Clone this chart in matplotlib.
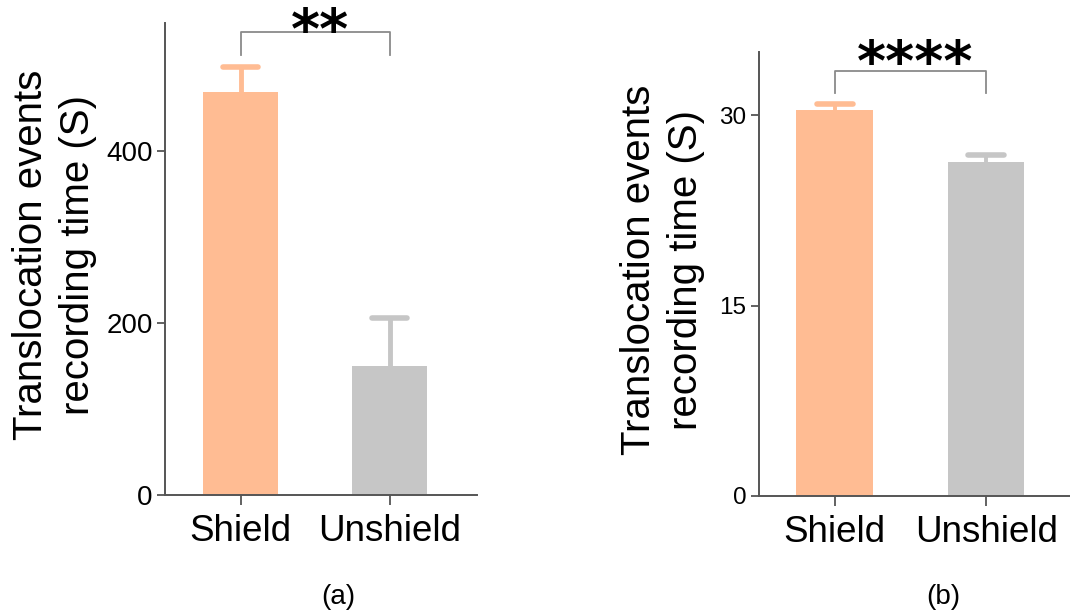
import matplotlib
matplotlib.use("Agg")
import matplotlib.pyplot as plt

plt.rcParams["font.family"] = ["Liberation Sans", "DejaVu Sans"]

categories = ["Shield", "Unshield"]

# Panel (a): recording time with error (upper SEM)
means_a = [469, 150]
errors_a = [29, 56]
yticks_a = [0, 200, 400]
sig_a = "**"

# Panel (b)
means_b = [30.4, 26.3]
errors_b = [0.5, 0.6]
yticks_b = [0, 15, 30]
sig_b = "****"

bar_colors = ["#FFBC93", "#C6C6C6"]
spine_color = "#555555"
ylabel = "Translocation events\nrecording time (S)"

W, H = 1070, 611
fig = plt.figure(figsize=(W / 100, H / 100), dpi=100)


def px_axes(left, top, right, bottom):
    return fig.add_axes([left / W, 1 - bottom / H, (right - left) / W, (bottom - top) / H])


def panel(ax, means, errors, yticks, ylim, xlim, ytick_size, sig, bracket_y, leg_y,
          sig_offset, cap_half, stem_lw):
    x = list(range(len(categories)))
    ax.bar(x, means, width=0.505, color=bar_colors, zorder=2)
    for xi, m, e, c in zip(x, means, errors, bar_colors):
        ax.vlines(xi, m, m + e, colors=c, lw=stem_lw, zorder=1)
        ax.hlines(m + e, xi - cap_half, xi + cap_half, colors=c, lw=4,
                  capstyle="round", zorder=1)
    ax.set_xlim(*xlim)
    ax.set_ylim(*ylim)
    ax.set_yticks(yticks)
    ax.set_xticks(x)
    ax.set_xticklabels(categories, fontsize=26.5)
    for s in ("top", "right"):
        ax.spines[s].set_visible(False)
    for s in ("left", "bottom"):
        ax.spines[s].set_color(spine_color)
        ax.spines[s].set_linewidth(1.4)
    ax.tick_params(axis="y", length=6, width=1.3, color=spine_color,
                   labelsize=ytick_size, pad=3)
    ax.tick_params(axis="x", length=7, width=1.3, color=spine_color, pad=7)
    # significance bracket
    ax.plot([x[0], x[0], x[1], x[1]], [leg_y, bracket_y, bracket_y, leg_y],
            color="#8a8a8a", lw=1.3, clip_on=False, zorder=3)
    ax.text((x[0] + x[1]) / 2 + 0.03, bracket_y + sig_offset, sig, ha="center",
            va="center", fontsize=40, fontweight="bold",
            family="DejaVu Sans", clip_on=False, zorder=4)


ax1 = px_axes(165, 23, 477, 495)
panel(ax1, means_a, errors_a, yticks_a, (0, 549), (-0.507, 1.587), 20, sig_a,
      538, 512, -1, 0.12, 3.5)
ax1.text(-0.353, 0.508, ylabel, transform=ax1.transAxes, rotation=90,
         ha="center", va="center", fontsize=29, linespacing=1.3)

ax2 = px_axes(759, 52, 1077, 496)
panel(ax2, means_b, errors_b, yticks_b, (0, 35), (-0.5, 1.6), 17.5, sig_b,
      33.5, 31.8, 0.5, 0.12, 2.8)
ax2.text(-0.305, 0.509, ylabel, transform=ax2.transAxes, rotation=90,
         ha="center", va="center", fontsize=29, linespacing=1.3)

fig.text(338 / W, 1 - 597 / H, "(a)", ha="center", va="center", fontsize=20)
fig.text(943 / W, 1 - 597 / H, "(b)", ha="center", va="center", fontsize=20)

fig.savefig("out.png", dpi=100, facecolor="white")
